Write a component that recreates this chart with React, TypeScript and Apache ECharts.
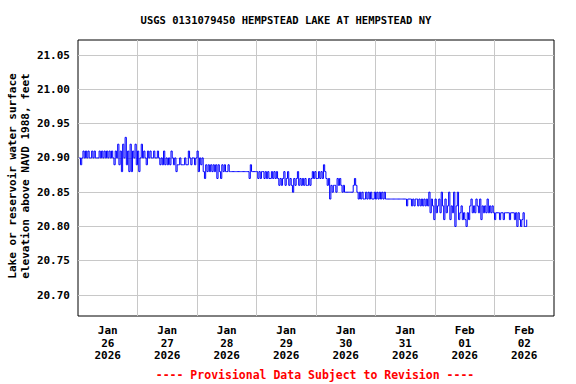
import React, { useEffect, useRef } from "react";
import * as echarts from "echarts";

// Tick labels
const monthLabels = ["Jan", "Jan", "Jan", "Jan", "Jan", "Jan", "Feb", "Feb"];
const dayLabels = ["26", "27", "28", "29", "30", "31", "01", "02"];
const yearLabels = ["2026", "2026", "2026", "2026", "2026", "2026", "2026", "2026"];
const yTicks = [20.7, 20.75, 20.8, 20.85, 20.9, 20.95, 21.0, 21.05];

// Gage height readings every 30 minutes (feet), grouped by day
const jan25 = [20.90, 20.89, 20.90, 20.91, 20.90, 20.91, 20.90, 20.91, 20.90, 20.90, 20.91, 20.90, 20.91, 20.90, 20.90, 20.90, 20.91, 20.90, 20.91, 20.90, 20.91, 20.90, 20.91];
const jan26 = [20.90, 20.91, 20.90, 20.91, 20.90, 20.89, 20.91, 20.90, 20.92, 20.89, 20.91, 20.88, 20.92, 20.90, 20.93, 20.89, 20.91, 20.88, 20.92, 20.88, 20.91, 20.90, 20.92, 20.89, 20.91, 20.88, 20.90, 20.92, 20.90, 20.91, 20.90, 20.89, 20.91, 20.90, 20.91, 20.90, 20.90, 20.91, 20.90, 20.90, 20.91, 20.90, 20.89, 20.90, 20.89, 20.91, 20.89, 20.90];
const jan27 = [20.89, 20.90, 20.89, 20.91, 20.90, 20.89, 20.90, 20.88, 20.89, 20.89, 20.90, 20.89, 20.89, 20.89, 20.90, 20.89, 20.89, 20.91, 20.90, 20.89, 20.90, 20.90, 20.89, 20.90, 20.91, 20.88, 20.90, 20.89, 20.90, 20.88, 20.87, 20.89, 20.88, 20.89, 20.88, 20.89, 20.88, 20.89, 20.88, 20.89, 20.87, 20.89, 20.88, 20.87, 20.89, 20.88, 20.89, 20.88];
const jan28 = [20.88, 20.89, 20.88, 20.88, 20.88, 20.88, 20.88, 20.88, 20.88, 20.88, 20.88, 20.88, 20.88, 20.88, 20.88, 20.88, 20.88, 20.88, 20.87, 20.89, 20.88, 20.88, 20.88, 20.88, 20.88, 20.87, 20.88, 20.87, 20.88, 20.88, 20.87, 20.88, 20.87, 20.88, 20.87, 20.87, 20.88, 20.87, 20.88, 20.87, 20.88, 20.87, 20.86, 20.87, 20.86, 20.87, 20.88, 20.86];
const jan29 = [20.87, 20.88, 20.86, 20.87, 20.86, 20.85, 20.87, 20.86, 20.87, 20.88, 20.86, 20.87, 20.86, 20.87, 20.86, 20.87, 20.86, 20.86, 20.87, 20.86, 20.87, 20.88, 20.87, 20.88, 20.87, 20.87, 20.88, 20.87, 20.88, 20.87, 20.89, 20.88, 20.87, 20.86, 20.87, 20.84, 20.86, 20.85, 20.86, 20.86, 20.85, 20.87, 20.86, 20.87, 20.86, 20.85, 20.86, 20.85];
const jan30 = [20.85, 20.85, 20.85, 20.85, 20.85, 20.85, 20.86, 20.87, 20.86, 20.85, 20.84, 20.85, 20.84, 20.85, 20.84, 20.84, 20.85, 20.84, 20.85, 20.84, 20.85, 20.84, 20.84, 20.85, 20.84, 20.85, 20.84, 20.85, 20.84, 20.85, 20.84, 20.85, 20.84, 20.84, 20.84, 20.84, 20.84, 20.84, 20.84, 20.84, 20.84, 20.84, 20.84, 20.84, 20.84, 20.84, 20.84, 20.84];
const jan31 = [20.84, 20.83, 20.84, 20.84, 20.84, 20.83, 20.84, 20.83, 20.84, 20.84, 20.83, 20.84, 20.83, 20.84, 20.83, 20.84, 20.83, 20.84, 20.83, 20.85, 20.82, 20.84, 20.83, 20.81, 20.84, 20.82, 20.83, 20.84, 20.82, 20.85, 20.83, 20.81, 20.84, 20.82, 20.83, 20.85, 20.81, 20.83, 20.82, 20.85, 20.80, 20.83, 20.85, 20.81, 20.82, 20.83, 20.81, 20.82];
const feb01 = [20.81, 20.80, 20.82, 20.81, 20.83, 20.84, 20.82, 20.83, 20.82, 20.84, 20.83, 20.82, 20.84, 20.81, 20.83, 20.82, 20.83, 20.82, 20.84, 20.82, 20.83, 20.82, 20.83, 20.82, 20.81, 20.82, 20.82, 20.82, 20.81, 20.82, 20.82, 20.81, 20.82, 20.82, 20.82, 20.82, 20.81, 20.82, 20.82, 20.82, 20.81, 20.82, 20.80, 20.82, 20.81, 20.80, 20.81, 20.82];
const feb02 = [20.80, 20.80, 20.81];

const HOUR = 3600 * 1000;
const DAY = 24 * HOUR;
const STEP = HOUR / 2;

const dailyReadings: [number, number[]][] = [
  [Date.UTC(2026, 0, 25, 12, 30), jan25],
  [Date.UTC(2026, 0, 26), jan26],
  [Date.UTC(2026, 0, 27), jan27],
  [Date.UTC(2026, 0, 28), jan28],
  [Date.UTC(2026, 0, 29), jan29],
  [Date.UTC(2026, 0, 30), jan30],
  [Date.UTC(2026, 0, 31), jan31],
  [Date.UTC(2026, 1, 1), feb01],
  [Date.UTC(2026, 1, 2), feb02],
];

const FONT = "'DejaVu Sans Mono', monospace";

export default function App() {
  const ref = useRef<HTMLDivElement>(null);
  useEffect(() => {
    if (!ref.current) return;
    const chart = echarts.init(ref.current, undefined, { renderer: "svg" });
    const data: [number, number][] = [];
    dailyReadings.forEach(([t0, vals]) => {
      vals.forEach((v, i) => data.push([t0 + i * STEP, v]));
    });
    const xMin = Date.UTC(2026, 0, 25, 12);
    const xMax = Date.UTC(2026, 1, 2, 12);
    const midnights = dayLabels.map((_, i) => Date.UTC(2026, 0, 26) + i * DAY);
    const noons = [];
    for (let i = 0; i < 7; i++) noons.push(Date.UTC(2026, 0, 26, 12) + i * DAY);

    chart.setOption({
      animation: false,
      backgroundColor: "#ffffff",
      grid: {
        left: 78,
        right: 22,
        top: 40,
        bottom: 68,
        show: true,
        borderColor: "#000000",
        borderWidth: 1,
        backgroundColor: "transparent",
      },
      graphic: [
        {
          type: "text",
          x: 286,
          y: 20,
          style: {
            text: "USGS 0131079450 HEMPSTEAD LAKE AT HEMPSTEAD NY",
            font: `bold 10.5px ${FONT}`,
            fill: "#000000",
            textAlign: "center",
            textVerticalAlign: "middle",
          },
        },
        {
          type: "text",
          x: 12,
          y: 176,
          rotation: Math.PI / 2,
          style: {
            text: "Lake or reservoir water surface",
            font: `bold 11px ${FONT}`,
            fill: "#000000",
            textAlign: "center",
            textVerticalAlign: "middle",
          },
        },
        {
          type: "text",
          x: 25,
          y: 176,
          rotation: Math.PI / 2,
          style: {
            text: "elevation above NAVD 1988, feet",
            font: `bold 11px ${FONT}`,
            fill: "#000000",
            textAlign: "center",
            textVerticalAlign: "middle",
          },
        },
        {
          type: "text",
          x: 315,
          y: 375,
          style: {
            text: "---- Provisional Data Subject to Revision ----",
            font: `bold 11.5px ${FONT}`,
            fill: "#ff0000",
            textAlign: "center",
            textVerticalAlign: "middle",
          },
        },
      ],
      xAxis: {
        type: "value",
        min: xMin,
        max: xMax,
        axisLine: { show: false },
        axisTick: { show: false, customValues: noons },
        splitLine: { show: true, lineStyle: { color: "#c8c8c8", width: 1 } },
        axisLabel: {
          customValues: midnights,
          margin: 8,
          lineHeight: 12.7,
          fontFamily: FONT,
          fontWeight: "bold",
          fontSize: 11,
          color: "#000000",
          align: "center",
          formatter: (v: number) => {
            const i = Math.round((v - midnights[0]) / DAY);
            return `${monthLabels[i]}\n${dayLabels[i]}\n${yearLabels[i]}`;
          },
        },
      },
      yAxis: {
        type: "value",
        min: 20.6694,
        max: 21.072,
        axisLine: { show: false },
        axisTick: { show: false, customValues: yTicks },
        splitLine: { show: true, lineStyle: { color: "#c8c8c8", width: 1 } },
        axisLabel: {
          customValues: yTicks,
          margin: 8,
          fontFamily: FONT,
          fontWeight: "bold",
          fontSize: 11,
          color: "#000000",
          formatter: (v: number) => v.toFixed(2),
        },
      },
      series: [
        {
          type: "line",
          data,
          step: "end",
          showSymbol: false,
          silent: true,
          lineStyle: { color: "#0000ff", width: 1 },
        },
      ],
    });
    return () => chart.dispose();
  }, []);
  return (
    <div
      ref={ref}
      style={{ position: "absolute", left: 0, top: 0, width: 576, height: 384 }}
    />
  );
}
